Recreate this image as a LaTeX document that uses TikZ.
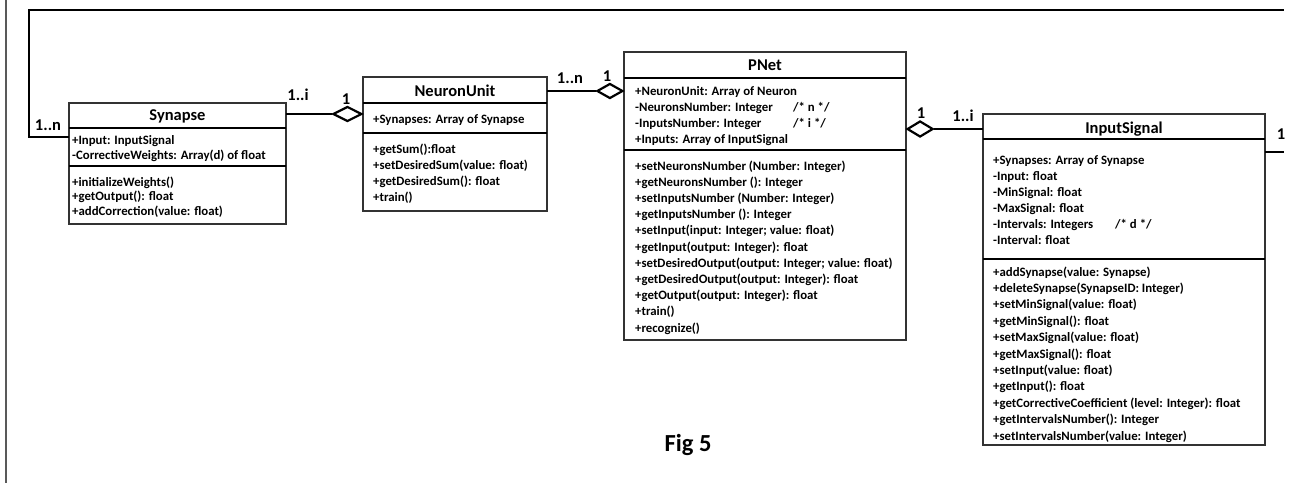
\documentclass[tikz,border=0pt]{standalone}
\usepackage{fontspec}
\setmainfont{Carlito}
\usetikzlibrary{shapes.geometric}
\begin{document}
\begin{tikzpicture}[x=1pt,y=-1pt,
  umlbox/.style={draw=black!80, line width=1.3pt, inner sep=0pt, outer sep=0pt, anchor=north west, fill=white},
  sep/.style={line width=2.4pt, black},
  title/.style={font=\fontsize{16.5}{18}\selectfont\bfseries, inner sep=0pt, anchor=base},
  txt/.style={font=\fontsize{12.8}{15}\selectfont\bfseries, inner sep=0pt, anchor=base west},
  mult/.style={font=\fontsize{16.5}{18}\selectfont\bfseries, inner sep=0pt, anchor=base},
  conn/.style={line width=2pt, black},
  agg/.style={diamond, draw, line width=2.2pt, fill=white, inner sep=0pt, aspect=2, minimum width=28pt, minimum height=15pt}]
\useasboundingbox (0,0) rectangle (1296,483);
\fill[white] (0,0) rectangle (1296,483);
% left page border
\draw[black!65, line width=2pt] (6,0) -- (6,483);

% boxes
\node[umlbox, minimum width=217pt, minimum height=121pt] (syn) at (69,103) {};
\node[umlbox, minimum width=184pt, minimum height=134pt] (neu) at (363,77) {};
\node[umlbox, minimum width=282pt, minimum height=288pt] (pnet) at (624,52) {};
\node[umlbox, minimum width=282pt, minimum height=331pt] (isig) at (983,114) {};

% dividers
\draw[sep] (syn.west |- 0,128) -- (syn.east |- 0,128);
\draw[sep] (syn.west |- 0,166) -- (syn.east |- 0,166);
\draw[sep] (neu.west |- 0,103) -- (neu.east |- 0,103);
\draw[sep] (neu.west |- 0,133) -- (neu.east |- 0,133);
\draw[sep] (pnet.west |- 0,78) -- (pnet.east |- 0,78);
\draw[sep] (pnet.west |- 0,150) -- (pnet.east |- 0,150);
\draw[sep] (isig.west |- 0,139) -- (isig.east |- 0,139);
\draw[sep] (isig.west |- 0,259) -- (isig.east |- 0,259);

% titles
\node[title] (synT) at (177.5,120.3) {Synapse};
\node[title] (neuT) at (455,96.3) {NeuronUnit};
\node[title] (pnetT) at (765,70.3) {PNet};
\node[title] (isigT) at (1124,133.3) {InputSignal};

% Synapse
\foreach \t [count=\i from 0] in {{+Input: InputSignal},{-CorrectiveWeights: Array(d) of float}}
  \node[txt] (synA\i) at (72,144+15*\i) {\t};
\foreach \t [count=\i from 0] in {{+initializeWeights()},{+getOutput(): float},{+addCorrection(value: float)}}
  \node[txt] (synM\i) at (72,186+14.5*\i) {\t};

% NeuronUnit
\node[txt] (neuA0) at (373,123) {+Synapses: Array of Synapse};
\foreach \t [count=\i from 0] in {{+getSum():float},{+setDesiredSum(value: float)},{+getDesiredSum(): float},{+train()}}
  \node[txt] (neuM\i) at (373,153+16*\i) {\t};

% PNet
\foreach \t [count=\i from 0] in {{+NeuronUnit: Array of Neuron},{-NeuronsNumber: Integer},{-InputsNumber: Integer},{+Inputs: Array of InputSignal}}
  \node[txt] (pnetA\i) at (635,95+16*\i) {\t};
\node[txt] (pnetC1) at (793,111) {/* n */};
\node[txt] (pnetC2) at (793,127) {/* i */};
\foreach \t [count=\i from 0] in {{+setNeuronsNumber (Number: Integer)},{+getNeuronsNumber (): Integer},{+setInputsNumber (Number: Integer)},{+getInputsNumber (): Integer},{+setInput(input: Integer; value: float)},{+getInput(output: Integer): float},{+setDesiredOutput(output: Integer; value: float)},{+getDesiredOutput(output: Integer): float},{+getOutput(output: Integer): float},{+train()},{+recognize()}}
  \node[txt] (pnetM\i) at (635,170+16.2*\i) {\t};

% InputSignal
\foreach \t [count=\i from 0] in {{+Synapses: Array of Synapse},{-Input: float},{-MinSignal: float},{-MaxSignal: float},{-Intervals: Integers},{-Interval: float}}
  \node[txt] (isigA\i) at (993,164+16*\i) {\t};
\node[txt] (isigC1) at (1115,228) {/* d */};
\foreach \t [count=\i from 0] in {{+addSynapse(value: Synapse)},{+deleteSynapse(SynapseID: Integer)},{+setMinSignal(value: float)},{+getMinSignal(): float},{+setMaxSignal(value: float)},{+getMaxSignal(): float},{+setInput(value: float)},{+getInput(): float},{+getCorrectiveCoefficient (level: Integer): float},{+getIntervalsNumber(): Integer},{+setIntervalsNumber(value: Integer)}}
  \node[txt] (isigM\i) at (993,276+16.4*\i) {\t};

% aggregation diamonds
\node[agg, anchor=east, minimum width=29pt] (d1) at (neu.west |- 0,114) {};
\node[agg, anchor=east, minimum width=26pt] (d2) at (pnet.west |- 0,91) {};
\node[agg, anchor=west, minimum width=26pt, minimum height=16pt] (d3) at (pnet.east |- 0,129) {};

% connectors
\draw[conn] (syn.east |- d1) -- (d1.west);
\draw[conn] (neu.east |- d2) -- (d2.west);
\draw[conn] (d3.east) -- (isig.west |- d3);
\coordinate (loopTL) at (29,10);
\coordinate (loopTR) at (1284,10);
\coordinate (loopR) at (1284,152);
\draw[conn] (syn.west |- 0,137) -| (loopTL) -- (loopTR);
\draw[conn] (isig.east |- 0,152) -- (loopR);

% multiplicities
\node[mult] (m1) at (48,130.3) {1..n};
\node[mult] (m2) at (298,100.3) {1..i};
\node[mult] (m3) at (346,104.3) {1};
\node[mult] (m4) at (570,83.3) {1..n};
\node[mult] (m5) at (607,81.3) {1};
\node[mult] (m6) at (921,118.3) {1};
\node[mult] (m7) at (963,121.3) {1..i};
\node[mult] (m8) at (1281,139.3) {1};

% caption
\node[font=\fontsize{24.5}{28}\selectfont\bfseries, inner sep=0pt, anchor=base] (fig) at (688,451) {Fig 5};
\end{tikzpicture}
\end{document}
